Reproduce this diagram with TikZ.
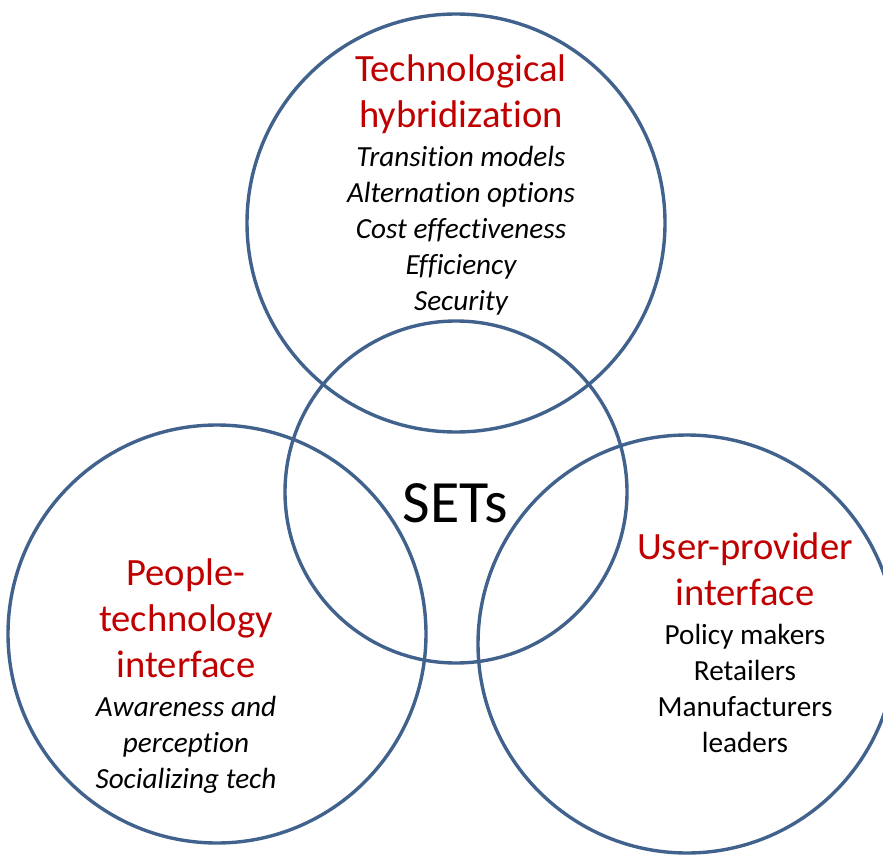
\documentclass[tikz,border=0pt]{standalone}
\usepackage{fontspec}
\setmainfont{Carlito}[Ligatures=NoCommon]
\usetikzlibrary{positioning}
\definecolor{ringblue}{HTML}{41628C}
\definecolor{headred}{HTML}{C00000}

\begin{document}
\begin{tikzpicture}[
  x=0.5pt, y=-0.5pt,
  ring/.style={circle, draw=ringblue, line width=1.7pt, inner sep=0pt},
  head/.style={text=headred, align=center, inner sep=0pt, font=\fontsize{19.3}{22.8}\selectfont},
  items/.style={align=center, inner sep=0pt, font=\fontsize{14.6}{18}\selectfont\itshape},
  plainitems/.style={items, font=\fontsize{14.6}{18}\selectfont\upshape},
  core/.style={inner sep=0pt, font=\fontsize{30}{36}\selectfont}
  ]
  \useasboundingbox (0,0) rectangle (883,856);

  % the four rings
  \node[ring, minimum size=209pt] (techC) at (456,223) {};
  \node[ring, minimum size=171pt] (setsC) at (456,492) {};
  \node[ring, minimum size=209pt] (peopleC) at (217,634) {};
  \node[ring, minimum size=209pt] (userC) at (687,644) {};

  % top ring (base = last line)
  \node[head, anchor=base] (techHead) at (461,127) {Technological\\hybridization};
  \node[items, below=6pt of techHead] (techList) {Transition models\\Alternation options\\Cost effectiveness\\Efficiency\\Security};

  % centre
  \node[core, anchor=base] (sets) at (455,522) {SETs};

  % left ring
  \node[head, anchor=base] (peopleHead) at (186,677) {People-\\technology\\interface};
  \node[items, below=9pt of peopleHead] (peopleList) {Awareness and\\perception\\Socializing tech};

  % right ring
  \node[head, anchor=base] (userHead) at (745,605) {User-provider\\interface};
  \node[plainitems, below=9pt of userHead] (userList) {Policy makers\\Retailers\\Manufacturers\\leaders};
\end{tikzpicture}
\end{document}
